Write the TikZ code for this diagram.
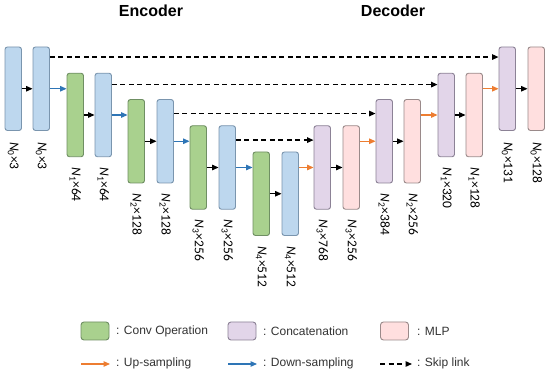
\documentclass[tikz,border=0pt]{standalone}
\usepackage{fontspec}
\setmainfont{Liberation Sans}
\newfontfamily\lblfont{Carlito}
\usetikzlibrary{arrows.meta}
\definecolor{bfill}{HTML}{BDD7EE}
\definecolor{bdraw}{HTML}{7A95AE}
\definecolor{gfill}{HTML}{A9D18E}
\definecolor{gdraw}{HTML}{6F8F63}
\definecolor{pfill}{HTML}{E2D5E9}
\definecolor{pdraw}{HTML}{8C8296}
\definecolor{rfill}{HTML}{FFDFDF}
\definecolor{rdraw}{HTML}{9A8A8A}
\definecolor{upc}{HTML}{ED7D31}
\definecolor{downc}{HTML}{2E75B6}
\newcommand\lab[2]{{\itshape N}\textsubscript{#1}×#2}
\tikzset{
  blk/.style={minimum width=16.5pt,minimum height=83.5pt,rounded corners=2.5pt,line width=0.9pt,inner sep=0pt},
  bluebox/.style={blk,fill=bfill,draw=bdraw},
  greenbox/.style={blk,fill=gfill,draw=gdraw},
  purplebox/.style={blk,fill=pfill,draw=pdraw},
  pinkbox/.style={blk,fill=rfill,draw=rdraw},
  legbox/.style={minimum width=28pt,minimum height=18pt,rounded corners=3pt,line width=0.9pt,inner sep=0pt},
  arrtip/.style={-{Triangle[length=6.5pt,width=5.5pt]}},
  plain/.style={arrtip,line width=1.2pt,black},
  up/.style={arrtip,line width=1.2pt,upc},
  down/.style={arrtip,line width=1.2pt,downc},
  skip/.style={arrtip,line width=1.3pt,black,dash pattern=on 5pt off 3.5pt},
  lbl/.style={rotate=-90,anchor=west,inner sep=0pt,font=\lblfont\fontsize{13.5}{15}\selectfont},
  legtxt/.style={anchor=west,inner sep=0pt,text=black!80,font=\fontsize{12}{14}\selectfont},
  title/.style={font=\bfseries\fontsize{16}{18}\selectfont,inner sep=0pt}
}
\begin{document}
\begin{tikzpicture}[x=1pt,y=-1pt]
\useasboundingbox[fill=white] (0,0) rectangle (550,374);
\node[title] (enc) at (151,11) {Encoder};
\node[title] (dec) at (393,11) {Decoder};
% encoder
\node[bluebox]   (e0a) at (13.25,88.75) {};
\node[bluebox]   (e0b) at (41.25,88.75) {};
\node[greenbox]  (e1a) at (75.25,115) {};
\node[bluebox]   (e1b) at (103.25,115) {};
\node[greenbox]  (e2a) at (136.25,141.25) {};
\node[bluebox]   (e2b) at (165.25,141.25) {};
\node[greenbox]  (e3a) at (198.25,167.5) {};
\node[bluebox]   (e3b) at (227.25,167.5) {};
\node[greenbox]  (e4a) at (261.25,193.75) {};
\node[bluebox]   (e4b) at (290.25,193.75) {};
% decoder
\node[purplebox] (d3a) at (322.25,167.5) {};
\node[pinkbox]   (d3b) at (351.25,167.5) {};
\node[purplebox] (d2a) at (384.25,141.25) {};
\node[pinkbox]   (d2b) at (412.25,141.25) {};
\node[purplebox] (d1a) at (446.25,115) {};
\node[pinkbox]   (d1b) at (474.25,115) {};
\node[purplebox] (d0a) at (507.25,88.75) {};
\node[pinkbox]   (d0b) at (536.25,88.75) {};
% labels
\node[lbl] (l1) at ([yshift=-11pt]e0a.south) {\lab{0}{3}};
\node[lbl] (l2) at ([yshift=-11pt]e0b.south) {\lab{0}{3}};
\node[lbl] (l3) at ([yshift=-10pt]e1a.south) {\lab{1}{64}};
\node[lbl] (l4) at ([yshift=-10pt]e1b.south) {\lab{1}{64}};
\node[lbl] (l5) at ([yshift=-10pt]e2a.south) {\lab{2}{128}};
\node[lbl] (l6) at ([yshift=-10pt]e2b.south) {\lab{2}{128}};
\node[lbl] (l7) at ([yshift=-10pt]e3a.south) {\lab{3}{256}};
\node[lbl] (l8) at ([yshift=-10pt]e3b.south) {\lab{3}{256}};
\node[lbl] (l9) at ([yshift=-10pt]e4a.south) {\lab{4}{512}};
\node[lbl] (l10) at ([yshift=-10pt]e4b.south) {\lab{4}{512}};
\node[lbl] (l11) at ([yshift=-10pt]d3a.south) {\lab{3}{768}};
\node[lbl] (l12) at ([yshift=-10pt]d3b.south) {\lab{3}{256}};
\node[lbl] (l13) at ([yshift=-10pt]d2a.south) {\lab{2}{384}};
\node[lbl] (l14) at ([yshift=-10pt]d2b.south) {\lab{2}{256}};
\node[lbl] (l15) at ([yshift=-10pt]d1a.south) {\lab{1}{320}};
\node[lbl] (l16) at ([yshift=-10pt]d1b.south) {\lab{1}{128}};
\node[lbl] (l17) at ([yshift=-11pt]d0a.south) {\lab{0}{131}};
\node[lbl] (l18) at ([yshift=-11pt]d0b.south) {\lab{0}{128}};
% plain arrows within pairs
\foreach \a/\b in {e0a/e0b,e1a/e1b,e2a/e2b,e3a/e3b,e4a/e4b,d3a/d3b,d2a/d2b,d1a/d1b,d0a/d0b}
  \draw[plain] (\a.east) -- (\b.west);
% down-sampling
\foreach \a/\b in {e0b/e1a,e1b/e2a,e2b/e3a,e3b/e4a}
  \draw[down] (\a.east) -- (\a.east -| \b.west);
% up-sampling
\foreach \a/\b in {e4b/d3a,d3b/d2a,d2b/d1a,d1b/d0a}
  \draw[up] (\a.east |- \b.west) -- (\b.west);
% skip links
\draw[skip] ([yshift=-10.5pt]e0b.north east) -- ([yshift=-10.5pt]e0b.north east -| d0a.west);
\draw[skip] ([yshift=-11.8pt]e1b.north east) -- ([yshift=-11.8pt]e1b.north east -| d1a.west);
\draw[skip] ([yshift=-14.5pt]e2b.north east) -- ([yshift=-14.5pt]e2b.north east -| d2a.west);
\draw[skip] ([yshift=-14.8pt]e3b.north east) -- ([yshift=-14.8pt]e3b.north east -| d3a.west);
% legend
\node[legbox,fill=gfill,draw=gdraw] (lg1) at (95,331) {};
\node[legtxt] (lt1) at (116,331) {: Conv Operation};
\node[legbox,fill=pfill,draw=pdraw] (lg2) at (242,331) {};
\node[legtxt] (lt2) at (263,331) {: Concatenation};
\node[legbox,fill=rfill,draw=rdraw] (lg3) at (394.5,331) {};
\node[legtxt] (lt3) at (417,331) {: MLP};
\coordinate (a1s) at (81,364);
\coordinate (a1e) at (110,364);
\coordinate (a2s) at (228,364);
\coordinate (a2e) at (257,364);
\coordinate (a3s) at (380,364);
\coordinate (a3e) at (412,364);
\draw[up] (a1s) -- (a1e);
\node[legtxt] (lt4) at (116,363) {: Up-sampling};
\draw[down] (a2s) -- (a2e);
\node[legtxt] (lt5) at (263,363) {: Down-sampling};
\draw[skip] (a3s) -- (a3e);
\node[legtxt] (lt6) at (417,363) {: Skip link};
\end{tikzpicture}
\end{document}
